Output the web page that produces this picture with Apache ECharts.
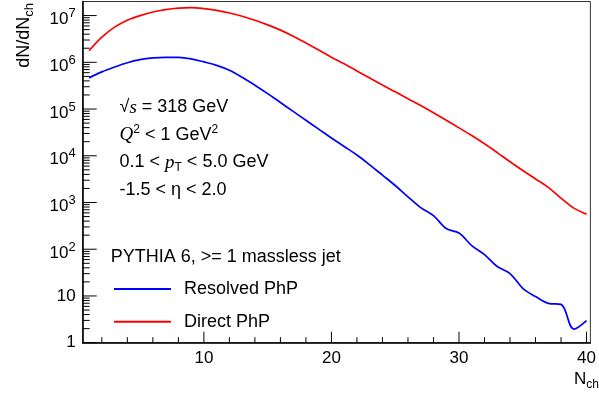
<!DOCTYPE html>
<html>
<head>
<meta charset="utf-8">
<script src="https://cdn.jsdelivr.net/npm/echarts@6/dist/echarts.min.js"></script>
<style>
  html, body { margin: 0; padding: 0; background: #fff; }
  #chart { width: 599px; height: 394px; }
</style>
</head>
<body>
<div id="chart"></div>
<script>
// N_ch bins (x values)
const nch = [1, 2, 3, 4, 5, 6, 7, 8, 9, 10, 11, 12, 13, 14, 15, 16, 17, 18, 19, 20,
  21, 22, 23, 24, 25, 26, 27, 28, 29, 30, 31, 32, 33, 34, 35, 36, 37, 38, 39, 40];

// dN/dN_ch, resolved photoproduction
const resolvedPhP = [4.64e5, 6.23e5, 7.93e5, 9.8e5, 1.14e6, 1.24e6, 1.28e6, 1.27e6, 1.18e6, 1.02e6,
  8.61e5, 6.76e5, 4.79e5, 3.24e5, 2.14e5, 1.38e5, 8.91e4, 5.75e4, 3.72e4, 2.4e4,
  1.58e4, 1.04e4, 6.4e3, 3.85e3, 2.31e3, 1.32e3, 778, 525, 277, 222,
  120, 76.9, 42.6, 30.2, 14.6, 9.7, 6.96, 6.6, 1.96, 2.98];

// dN/dN_ch, direct photoproduction
const directPhP = [1.77e6, 3.44e6, 5.65e6, 7.94e6, 1.0e7, 1.19e7, 1.34e7, 1.44e7, 1.48e7, 1.41e7,
  1.29e7, 1.135e7, 9.66e6, 7.94e6, 6.31e6, 4.88e6, 3.63e6, 2.6e6, 1.84e6, 1.29e6,
  9.3e5, 6.5e5, 4.61e5, 3.25e5, 2.33e5, 1.66e5, 1.19e5, 8.3e4, 5.75e4, 3.95e4,
  2.71e4, 1.81e4, 1.17e4, 7.45e3, 4.83e3, 3.19e3, 2.11e3, 1.24e3, 759, 565];

const seriesNames = ['Resolved PhP', 'Direct PhP'];
const xMajorTicks = [10, 20, 30, 40];
const xMinorTicks = [2, 4, 6, 8, 12, 14, 16, 18, 22, 24, 26, 28, 32, 34, 36, 38];
const yDecades = [1, 10, 100, 1e3, 1e4, 1e5, 1e6, 1e7];

const FONT = 'Liberation Sans';
const X_MIN = 0.5;
const X_MAX = 40.3;
const Y_MIN = 1;
const Y_MAX = 2e7;

// minor ticks 2..9 x 10^n
const yMinorTicks = [];
yDecades.forEach((d) => {
  for (let k = 2; k <= 9; k++) {
    if (d * k < Y_MAX) yMinorTicks.push(d * k);
  }
});

// tick rows: [x, y, length, vertical?]
const tickRows = [
  ...yDecades.map((v) => [X_MIN, v, 14, 0]),
  ...yMinorTicks.map((v) => [X_MIN, v, 7, 0]),
  ...xMajorTicks.map((v) => [v, Y_MIN, 11, 1]),
  ...xMinorTicks.map((v) => [v, Y_MIN, 5.5, 1]),
];

const toPairs = (ys) => nch.map((n, i) => [n, ys[i]]);

const mathRich = {
  m: { fontFamily: FONT, fontSize: 18, lineHeight: 22, color: '#000' },
  i: { fontFamily: 'Liberation Serif', fontStyle: 'italic', fontSize: 19, lineHeight: 22, color: '#000' },
  sup: { fontFamily: FONT, fontSize: 12, lineHeight: 12, verticalAlign: 'top', color: '#000' },
  sub: { fontFamily: FONT, fontSize: 12, lineHeight: 12, verticalAlign: 'bottom', color: '#000' },
};

const chart = echarts.init(document.getElementById('chart'));

chart.setOption({
  animation: false,
  backgroundColor: '#fff',
  grid: {
    left: 82.7,
    right: 2.3,
    top: 1.5,
    bottom: 51.3,
    show: true,
    borderColor: '#333',
    borderWidth: 1,
  },
  legend: {
    data: seriesNames,
    orient: 'vertical',
    left: 114,
    top: 280,
    padding: 0,
    icon: 'rect',
    itemWidth: 57,
    itemHeight: 2,
    itemGap: 14.7,
    textStyle: { fontFamily: FONT, fontSize: 18, lineHeight: 18, color: '#000', padding: [0, 0, 0, 8] },
  },
  xAxis: {
    type: 'value',
    min: X_MIN,
    max: X_MAX,
    axisLine: { lineStyle: { color: '#000', width: 1.5 } },
    axisTick: { show: false },
    axisLabel: { customValues: xMajorTicks, fontFamily: FONT, fontSize: 17, color: '#000', margin: 7 },
    splitLine: { show: false },
  },
  yAxis: {
    type: 'log',
    logBase: 10,
    min: Y_MIN,
    max: Y_MAX,
    axisLine: { show: true, lineStyle: { color: '#000', width: 1.5 } },
    axisTick: { show: false },
    axisLabel: {
      customValues: yDecades,
      margin: 7,
      formatter: function (v) {
        if (v < 5) return '{n|1}';
        if (v < 50) return '{n|10}';
        return '{b|10}{e|' + Math.round(Math.log10(v)) + '}';
      },
      rich: {
        n: { fontFamily: FONT, fontSize: 17, lineHeight: 17, color: '#000' },
        b: { fontFamily: FONT, fontSize: 17, lineHeight: 17, padding: [8, 0, 0, 0], color: '#000' },
        e: { fontFamily: FONT, fontSize: 13, lineHeight: 13, padding: [4, 0, 8, 0], color: '#000' },
      },
    },
    splitLine: { show: false },
  },
  graphic: [
    {
      type: 'text',
      x: 24,
      y: 3,
      rotation: Math.PI / 2,
      style: {
        text: '{m|dN/dN}{s|ch}',
        textAlign: 'right',
        textVerticalAlign: 'middle',
        rich: {
          m: { fontFamily: FONT, fontSize: 18, lineHeight: 24, color: '#000' },
          s: { fontFamily: FONT, fontSize: 13, lineHeight: 13, verticalAlign: 'bottom', color: '#000' },
        },
      },
    },
    {
      type: 'text',
      x: 599,
      y: 379,
      style: {
        text: '{m|N}{s|ch}',
        textAlign: 'right',
        textVerticalAlign: 'middle',
        rich: {
          m: { fontFamily: FONT, fontSize: 17, lineHeight: 24, color: '#000' },
          s: { fontFamily: FONT, fontSize: 12, lineHeight: 12, verticalAlign: 'bottom', color: '#000' },
        },
      },
    },
    {
      type: 'text',
      x: 119.5,
      y: 107.5,
      style: { text: '{m|√}{i|s}{m| = 318 GeV}', textVerticalAlign: 'middle', rich: mathRich },
    },
    {
      type: 'text',
      x: 119.5,
      y: 135,
      style: { text: '{i|Q}{sup|2}{m| < 1 GeV}{sup|2}', textVerticalAlign: 'middle', rich: mathRich },
    },
    {
      type: 'text',
      x: 119.5,
      y: 162.5,
      style: { text: '{m|0.1 < }{i|p}{sub|T}{m| < 5.0 GeV}', textVerticalAlign: 'middle', rich: mathRich },
    },
    {
      type: 'text',
      x: 119.5,
      y: 190,
      style: { text: '{m|-1.5 < η < 2.0}', textVerticalAlign: 'middle', rich: mathRich },
    },
    {
      type: 'text',
      x: 110.7,
      y: 257,
      style: {
        text: 'PYTHIA 6, >= 1 massless jet',
        fontFamily: FONT,
        fontSize: 18,
        fill: '#000',
        textVerticalAlign: 'middle',
      },
    },
  ],
  series: [
    {
      name: seriesNames[0],
      type: 'line',
      data: toPairs(resolvedPhP),
      symbol: 'none',
      smooth: 0.35,
      color: '#0000ff',
      lineStyle: { width: 1.7, color: '#0000ff' },
    },
    {
      name: seriesNames[1],
      type: 'line',
      data: toPairs(directPhP),
      symbol: 'none',
      smooth: 0.35,
      color: '#ff0000',
      lineStyle: { width: 1.7, color: '#ff0000' },
    },
    {
      // axis tick marks, placed through the chart's own scales
      name: 'ticks',
      type: 'custom',
      silent: true,
      clip: false,
      data: tickRows,
      encode: { x: 0, y: 1 },
      renderItem: function (params, api) {
        const p = api.coord([api.value(0), api.value(1)]);
        const len = api.value(2);
        const vertical = api.value(3) === 1;
        return {
          type: 'line',
          shape: vertical
            ? { x1: p[0], y1: p[1], x2: p[0], y2: p[1] - len }
            : { x1: p[0], y1: p[1], x2: p[0] + len, y2: p[1] },
          style: { stroke: '#000', lineWidth: 1 },
        };
      },
    },
  ],
});
</script>
</body>
</html>
